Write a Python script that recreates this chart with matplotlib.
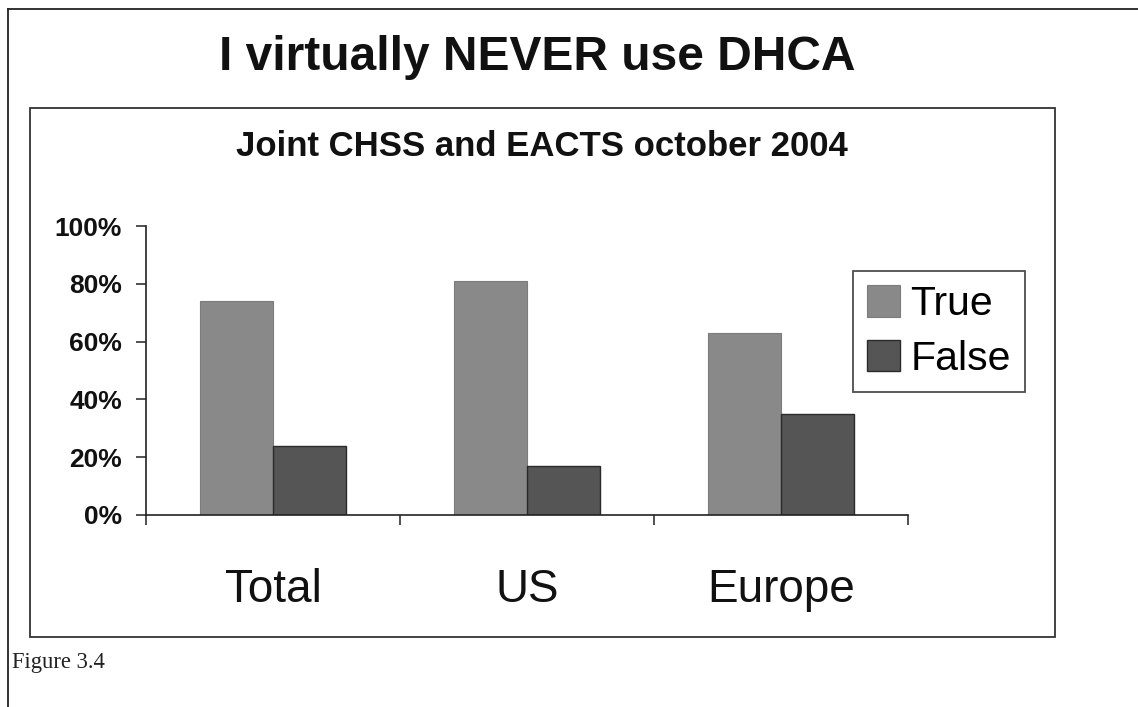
import matplotlib
matplotlib.use("Agg")
import matplotlib.pyplot as plt
from matplotlib.patches import Rectangle
from matplotlib.lines import Line2D
import numpy as np

categories = ["Total", "US", "Europe"]
true_vals = [74, 81, 63]
false_vals = [24, 17, 35]
series_names = ["True", "False"]
ytick_vals = [0, 20, 40, 60, 80, 100]
ytick_labels = ["0%", "20%", "40%", "60%", "80%", "100%"]

W, H = 1138, 707
fig = plt.figure(figsize=(W / 100, H / 100), dpi=100)
fig.patch.set_facecolor("white")

def fx(px):
    return px / W

def fy(py):
    return 1 - py / H

# outer frame lines (top and left)
fig.add_artist(Line2D([fx(8), 1.0], [fy(9), fy(9)], transform=fig.transFigure, color="#222222", lw=1.3))
fig.add_artist(Line2D([fx(8), fx(8)], [fy(9), 0.0], transform=fig.transFigure, color="#222222", lw=1.3))

# inner chart-area box
fig.add_artist(Rectangle((fx(30), fy(637)), fx(1055) - fx(30), fy(108) - fy(637),
                         transform=fig.transFigure, fill=False, edgecolor="#333333", lw=1.3))

# titles
fig.text(fx(537), fy(70), "I virtually NEVER use DHCA", ha="center", va="baseline",
         fontsize=34.5, fontweight="bold", family="Liberation Sans", color="#111111")
fig.text(fx(542), fy(156), "Joint CHSS and EACTS october 2004", ha="center", va="baseline",
         fontsize=25, fontweight="bold", family="Liberation Sans", color="#111111")
fig.text(fx(12), fy(668), "Figure 3.4", ha="left", va="baseline",
         fontsize=16.3, family="Liberation Serif", color="#222222")

# axes
ax = fig.add_axes([fx(146), fy(515), fx(908) - fx(146), fy(226) - fy(515)])
ax.set_facecolor("white")
x = np.arange(len(categories))
bw = 0.286
b1 = ax.bar(x - bw / 2, true_vals, width=bw, color="#898989", edgecolor="#7c7c7c", lw=0.8,
            label=series_names[0])
b2 = ax.bar(x + bw / 2, false_vals, width=bw, color="#555555", edgecolor="#2a2a2a", lw=1.0,
            label=series_names[1])
ax.set_xlim(-0.5, len(categories) - 0.5)
ax.set_ylim(0, 100)

for s in ["top", "right"]:
    ax.spines[s].set_visible(False)
for s in ["left", "bottom"]:
    ax.spines[s].set_color("#222222")
    ax.spines[s].set_linewidth(1.2)

ax.set_yticks(ytick_vals)
ax.set_yticklabels(ytick_labels, fontsize=19, fontweight="bold", family="Liberation Sans", color="#111111")
ax.tick_params(axis="y", direction="out", length=7.2, width=1.1, color="#222222", pad=10)

ax.set_xticks(x)
ax.set_xticklabels(categories, fontsize=33, family="Liberation Sans", color="#111111")
ax.tick_params(axis="x", which="major", length=0, pad=38)
ax.set_xticks(np.arange(len(categories) + 1) - 0.5, minor=True)
ax.tick_params(axis="x", which="minor", direction="out", length=7.2, width=1.1, color="#222222")

leg = ax.legend(handles=[b1, b2], labels=series_names, loc="upper left",
                bbox_to_anchor=(fx(853), fy(271)), bbox_transform=fig.transFigure,
                borderaxespad=0, frameon=True, fancybox=False, shadow=False,
                prop={"family": "Liberation Sans", "size": 29.5},
                handlelength=0.8, handleheight=0.8, handletextpad=0.25,
                labelspacing=0.4, borderpad=0.35)
leg.get_frame().set_edgecolor("#222222")
leg.get_frame().set_linewidth(1.3)

fig.savefig("out.png", dpi=100, facecolor="white")
